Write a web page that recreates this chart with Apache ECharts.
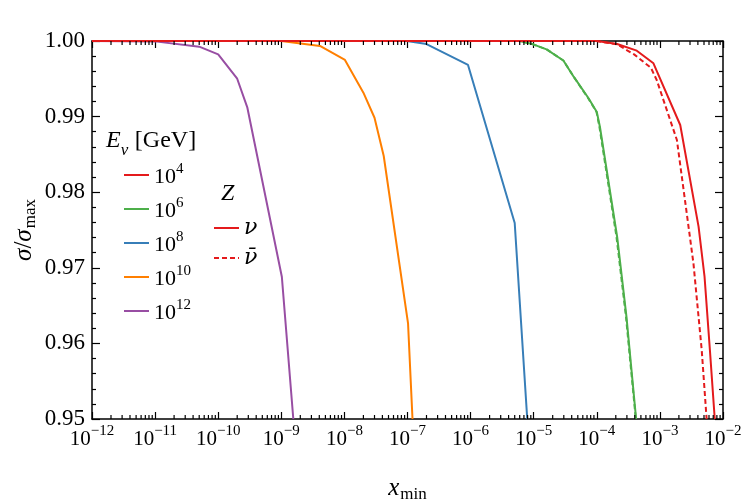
<!DOCTYPE html>
<html>
<head>
<meta charset="utf-8">
<title>sigma ratio vs x_min</title>
<script src="https://cdn.jsdelivr.net/npm/echarts@6/dist/echarts.min.js"></script>
<style>
  html, body { margin: 0; padding: 0; background: #fff; }
  #chart { width: 747px; height: 504px; }
</style>
</head>
<body>
<div id="chart"></div>
<script>
// curves: [x_min, sigma/sigma_max]
var nu_E4 = [[1e-12, 1.0], [1e-4, 1.0], [2.1e-4, 0.9996], [4.3e-4, 0.99872], [7.9e-4, 0.99705],
  [2.1e-3, 0.98889], [4.1e-3, 0.97544], [5.1e-3, 0.96882], [6.2e-3, 0.95913], [7.4e-3, 0.95]];
var nubar_E4 = [[1e-12, 1.0], [1e-4, 1.0], [2.1e-4, 0.99955], [3.9e-4, 0.99823], [7.2e-4, 0.99646],
  [8.9e-4, 0.99484], [1.86e-3, 0.9869], [3.4e-3, 0.9706], [4.6e-3, 0.95913], [5.5e-3, 0.95]];
var nu_E6 = [[1e-12, 1.0], [6e-6, 1.0], [9.8e-6, 0.99956], [1.6e-5, 0.9989], [2.95e-5, 0.99742],
  [4.3e-5, 0.99528], [7.4e-5, 0.99242], [1e-4, 0.99061], [1.12e-4, 0.98866], [2.1e-4, 0.97411],
  [2.95e-4, 0.96353], [4.2e-4, 0.95]];
var nubar_E6 = [[1e-12, 1.0], [6e-6, 1.0], [9.8e-6, 0.99956], [1.6e-5, 0.9989], [2.95e-5, 0.99742],
  [4.3e-5, 0.99528], [7.3e-5, 0.99242], [9.9e-5, 0.99061], [1.1e-4, 0.98866], [2.05e-4, 0.97411],
  [2.9e-4, 0.96353], [4.15e-4, 0.95]];
var nu_E8 = [[1e-12, 1.0], [9.8e-8, 1.0], [2e-7, 0.9996], [9.1e-7, 0.99683], [5e-6, 0.97593], [7.9e-6, 0.95]];
var nu_E10 = [[1e-12, 1.0], [1e-9, 1.0], [4.1e-9, 0.99934], [1.02e-8, 0.99749], [2e-8, 0.99316],
  [3e-8, 0.98985], [4.2e-8, 0.98479], [1.02e-7, 0.96266], [1.2e-7, 0.95]];
var nu_E12 = [[1e-12, 1.0], [1e-11, 0.99995], [5e-11, 0.99925], [1e-10, 0.99824], [2e-10, 0.99501],
  [2.9e-10, 0.99118], [1.02e-9, 0.96882], [1.55e-9, 0.95]];

var energyNames = ['E4', 'E6', 'E8', 'E10', 'E12'];
var energyExp = ['4', '6', '8', '10', '12'];
var colors = ['#e41a1c', '#4daf4a', '#377eb8', '#ff7f00', '#984ea3'];

var serif = 'Liberation Serif';
var chart = echarts.init(document.getElementById('chart'));

// minor ticks of the log axis (2..9 in every decade)
var minorX = [];
for (var e = -12; e < -2; e++) {
  for (var m = 2; m <= 9; m++) minorX.push([m * Math.pow(10, e), 0.95]);
}

function expLabel(v) {
  var p = Math.round(Math.log10(v));
  return '{b|10}{s|' + (p < 0 ? '\u2212' + (-p) : p) + '}';
}

function supRich(size) {
  return {
    b: { fontFamily: serif, fontSize: size, color: '#000', lineHeight: 26, verticalAlign: 'bottom' },
    s: { fontFamily: serif, fontSize: Math.round(size * 0.7), color: '#000', lineHeight: 14, verticalAlign: 'top' }
  };
}

function line(name, data, color, dashed) {
  return {
    name: name, type: 'line', data: data, symbol: 'none', silent: true,
    lineStyle: { color: color, width: 2, type: dashed ? [5, 3] : 'solid' },
    itemStyle: { color: color }, z: dashed ? 3 : 2
  };
}

var nameRich = {
  i: { fontFamily: serif, fontStyle: 'italic', fontSize: 25, color: '#000', lineHeight: 28, verticalAlign: 'top' },
  n: { fontFamily: serif, fontSize: 25, color: '#000', lineHeight: 28, verticalAlign: 'top' },
  sub: { fontFamily: serif, fontSize: 17, color: '#000', lineHeight: 17, verticalAlign: 'bottom', padding: [0, 0, 1, 1] }
};

var option = {
  animation: false,
  grid: { left: 92, right: 24, top: 41, bottom: 85, outerBoundsMode: 'none', containLabel: false },
  xAxis: [{
    type: 'log', logBase: 10, min: 1e-12, max: 1e-2, interval: 1,
    axisLine: { lineStyle: { color: '#000', width: 1.5 } },
    axisTick: { inside: true, length: 7, lineStyle: { color: '#000', width: 1.2 } },
    splitLine: { show: false },
    axisLabel: { formatter: expLabel, margin: 5, rich: supRich(21) },
    name: '{i|x}{sub|min}', nameLocation: 'middle', nameGap: 57, nameMoveOverlap: false,
    nameTextStyle: { rich: nameRich }
  }, {
    type: 'log', logBase: 10, min: 1e-12, max: 1e-2, interval: 1, position: 'top',
    axisLine: { lineStyle: { color: '#000', width: 1.5 } },
    axisTick: { inside: true, length: 7, lineStyle: { color: '#000', width: 1.2 } },
    axisLabel: { show: false }, splitLine: { show: false }
  }],
  yAxis: [{
    type: 'value', min: 0.95, max: 1.0, interval: 0.01,
    axisLine: { show: true, lineStyle: { color: '#000', width: 1.5 } },
    axisTick: { inside: true, length: 8, lineStyle: { color: '#000', width: 1.2 } },
    minorTick: { show: true, splitNumber: 5, length: 4, lineStyle: { color: '#000', width: 1.2 } },
    splitLine: { show: false },
    axisLabel: { formatter: function (v) { return v.toFixed(2); }, fontFamily: serif, fontSize: 23, color: '#000', margin: 7 },
    name: '{i|\u03c3}{n|/}{i|\u03c3}{sub|max}', nameLocation: 'middle', nameGap: 52, nameRotate: 90, nameMoveOverlap: false,
    nameTextStyle: { rich: nameRich }
  }, {
    type: 'value', min: 0.95, max: 1.0, interval: 0.01, position: 'right',
    axisLine: { show: true, lineStyle: { color: '#000', width: 1.5 } },
    axisTick: { inside: true, length: 8, lineStyle: { color: '#000', width: 1.2 } },
    minorTick: { show: true, splitNumber: 5, length: 4, lineStyle: { color: '#000', width: 1.2 } },
    splitLine: { show: false }, axisLabel: { show: false }
  }],
  legend: [{
    data: energyNames, orient: 'vertical', left: 118, top: 157,
    itemWidth: 25, itemHeight: 12, itemGap: 8,
    itemStyle: { opacity: 0 },
    formatter: function (n) { return '{b|10}{s|' + energyExp[energyNames.indexOf(n)] + '}'; },
    textStyle: { rich: supRich(22) },
    selectedMode: false
  }, {
    data: ['nu', 'nubar'], orient: 'vertical', left: 208, top: 212,
    itemWidth: 25, itemHeight: 12, itemGap: 8,
    itemStyle: { opacity: 0 },
    formatter: function (n) { return n === 'nu' ? '{v|\u03bd}' : '{v|\u03bd\u0304}'; },
    textStyle: { rich: { v: { fontFamily: 'DejaVu Serif', fontStyle: 'italic', fontSize: 22, color: '#000', lineHeight: 27 } } },
    selectedMode: false
  }],
  graphic: [{
    type: 'text', left: 106, top: 129,
    style: {
      text: '{i|E}{sub|\u03bd}  {n|[GeV]}',
      rich: {
        i: { fontFamily: serif, fontStyle: 'italic', fontSize: 24, fill: '#000', lineHeight: 28, verticalAlign: 'top' },
        sub: { fontFamily: serif, fontStyle: 'italic', fontSize: 17, fill: '#000', lineHeight: 17, verticalAlign: 'bottom', padding: [0, 0, -2, 0] },
        n: { fontFamily: serif, fontSize: 24, fill: '#000', lineHeight: 28, verticalAlign: 'top' }
      }
    }
  }, {
    type: 'text', left: 221, top: 182,
    style: { text: 'Z', font: 'italic 24px "Liberation Serif"', fill: '#000' }
  }],
  series: [
    line('nubar6', nubar_E6, colors[1], true),
    line('E12', nu_E12, colors[4]),
    line('E10', nu_E10, colors[3]),
    line('E8', nu_E8, colors[2]),
    line('E6', nu_E6, colors[1]),
    line('nubar4', nubar_E4, colors[0], true),
    line('E4', nu_E4, colors[0]),
    line('nu', [], colors[0]),
    line('nubar', [], colors[0], true),
    {
      type: 'custom', silent: true, data: minorX, clip: false, z: 5,
      renderItem: function (params, api) {
        var b = api.coord([api.value(0), 0.95]);
        var t = api.coord([api.value(0), 1.0]);
        return {
          type: 'group', children: [
            { type: 'line', shape: { x1: b[0], y1: b[1], x2: b[0], y2: b[1] - 4 }, style: { stroke: '#000', lineWidth: 1.2 } },
            { type: 'line', shape: { x1: t[0], y1: t[1], x2: t[0], y2: t[1] + 4 }, style: { stroke: '#000', lineWidth: 1.2 } }
          ]
        };
      }
    }
  ]
};
chart.setOption(option);
</script>
</body>
</html>
